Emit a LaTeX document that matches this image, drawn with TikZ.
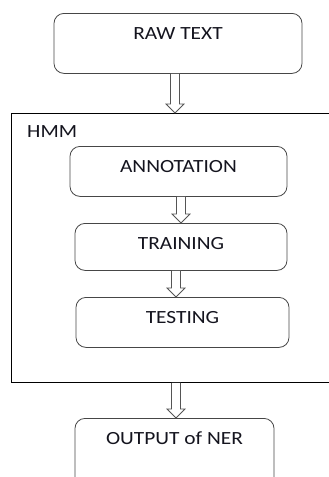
\documentclass[tikz,border=0pt]{standalone}
\usepackage{fontspec}
\setmainfont{Carlito}[FakeStretch=1.15]
\usepackage{tikz}
\usetikzlibrary{calc}
\definecolor{boxline}{RGB}{70,70,70}
\definecolor{arrowline}{RGB}{85,85,85}
\definecolor{inktext}{RGB}{20,20,30}

% hollow block arrow at x=#1 from node #2 down to node #3
\newcommand{\hollowarrow}[3]{%
  \draw[hollow] let \p1=(#2.south), \p2=(#3.north) in
    ({#1pt-4.5pt},\y1) -- ({#1pt-4.5pt},\y2+9pt) -- ({#1pt-9pt},\y2+9pt)
    -- ({#1pt},\y2) -- ({#1pt+9pt},\y2+9pt) -- ({#1pt+4.5pt},\y2+9pt)
    -- ({#1pt+4.5pt},\y1);
}

\begin{document}
\begin{tikzpicture}[x=1pt, y=-1pt,
    every node/.style={font=\fontsize{18.6}{20}\selectfont, text=inktext},
    stagebox/.style={draw=boxline, line width=0.8pt, rounded corners=10pt,
      anchor=north, inner ysep=0pt, text height=26pt},
    hollow/.style={draw=arrowline, line width=0.8pt, fill=white}]
  \useasboundingbox (0,0) rectangle (329,477);

  % outer HMM frame
  \node[draw=black, line width=0.8pt, anchor=north west, inner sep=0pt,
        minimum width=330pt, minimum height=269pt] (hmm) at (11,113) {};
  \node[anchor=base west, inner sep=0pt] (hmmlabel) at (27,137) {HMM};

  \node[stagebox, minimum width=248pt, text depth=34pt] (raw) at (178,13) {RAW TEXT};
  \node[stagebox, minimum width=217pt, text depth=24pt] (annot) at (178.5,146) {ANNOTATION};
  \node[stagebox, minimum width=212pt, text depth=21pt] (train) at (181,223) {TRAINING};
  \node[stagebox, minimum width=213pt, text depth=24pt] (test) at (182.5,297) {TESTING};
  \node[stagebox, minimum width=199pt, text depth=50pt] (ner) at (174.5,418) {OUTPUT of NER};

  \hollowarrow{175}{raw}{hmm}
  \hollowarrow{181}{annot}{train}
  \hollowarrow{176}{train}{test}
  \hollowarrow{176}{hmm}{ner}
\end{tikzpicture}
\end{document}
